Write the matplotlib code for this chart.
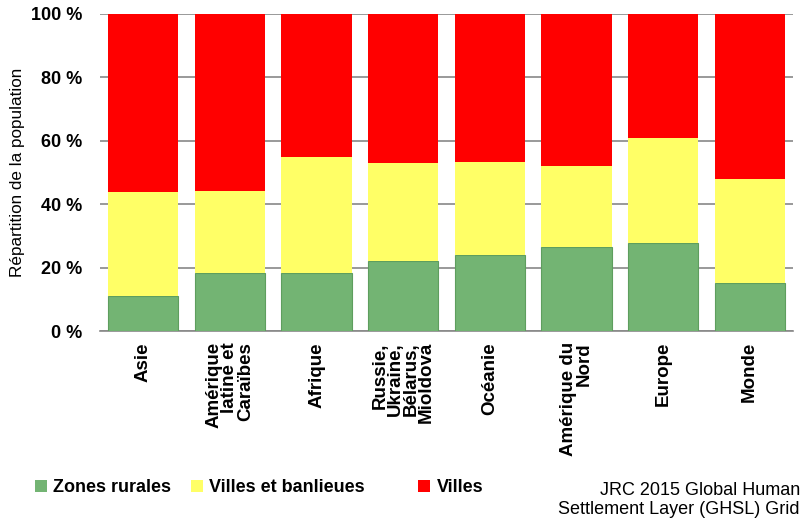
import matplotlib
matplotlib.use("Agg")
import matplotlib.pyplot as plt
import matplotlib.patches as mpatches
import numpy as np

plt.rcParams["font.family"] = ["Liberation Sans", "DejaVu Sans"]

regions = [
    "Asie",
    "Amérique\nlatine et\nCaraïbes",
    "Afrique",
    "Russie,\nUkraine,\nBélarus,\nMioldova",
    "Océanie",
    "Amérique du\nNord",
    "Europe",
    "Monde",
]
rural = [10.9, 18.4, 18.4, 22.1, 23.9, 26.5, 27.7, 15.2]
towns = [33.1, 25.9, 36.6, 30.8, 29.5, 25.6, 33.3, 32.7]
cities = [56.0, 55.7, 45.0, 47.1, 46.6, 47.9, 39.0, 52.1]
series_names = ["Zones rurales", "Villes et banlieues", "Villes"]
y_ticks = [0, 20, 40, 60, 80, 100]
source = "JRC 2015 Global Human\nSettlement Layer (GHSL) Grid"

GREEN = "#73B473"
GREEN_EDGE = "#5E9E5E"
YELLOW = "#FFFF66"
RED = "#FF0000"
GRID = "#888888"

fig = plt.figure(figsize=(8.02, 5.18), dpi=100)
ax = fig.add_axes([100 / 802, 1 - 331 / 518, 693 / 802, 317 / 518])

x = np.arange(len(regions))
w = 0.81
rural_a = np.array(rural)
towns_a = np.array(towns)
ax.bar(x, rural_a, w, color=GREEN, edgecolor=GREEN_EDGE, linewidth=0.8, zorder=3)
ax.bar(x, towns_a, w, bottom=rural_a, color=YELLOW, linewidth=0, zorder=3)
ax.bar(x, cities, w, bottom=rural_a + towns_a, color=RED, linewidth=0, zorder=3)

ax.set_xlim(-0.5, len(regions) - 0.5)
ax.set_ylim(0, 100)
ax.set_yticks(y_ticks)
ax.set_yticklabels([f"{v} %" for v in y_ticks], fontsize=13, fontweight="bold")
ax.yaxis.grid(True, color=GRID, linewidth=1.2, zorder=0)
ax.set_axisbelow(True)
for side in ["top", "right", "left"]:
    ax.spines[side].set_visible(False)
ax.spines["bottom"].set_color(GRID)
ax.spines["bottom"].set_linewidth(1.2)
ax.tick_params(axis="y", length=0, pad=13)
ax.tick_params(axis="x", length=0, pad=8)

ax.set_xticks(x)
ax.set_xticklabels(regions, rotation=90, fontsize=13.5, fontweight="bold",
                   va="top", ha="center", multialignment="right", linespacing=0.88)

ax.set_ylabel("Répartition de la population", fontsize=12.3)
ax.yaxis.set_label_coords(-75 / 693, 0.5)

# légende : une entrée par série, placées séparément
colors = [GREEN, YELLOW, RED]
leg_x = [35 / 802, 191 / 802, 418 / 802]
for name, col, lx in zip(series_names, colors, leg_x):
    h = mpatches.Patch(facecolor=col, edgecolor="none")
    fig.legend([h], [name], loc="center left", bbox_to_anchor=(lx, 1 - 488 / 518),
               frameon=False, borderpad=0, borderaxespad=0, handlelength=0.67,
               handleheight=0.67, handletextpad=0.35,
               prop={"size": 13, "weight": "bold"})

fig.text(800 / 802, 1 - 500 / 518, source, ha="right", va="center", fontsize=13,
         multialignment="right", linespacing=1.2)

fig.savefig("out.png", dpi=100)
